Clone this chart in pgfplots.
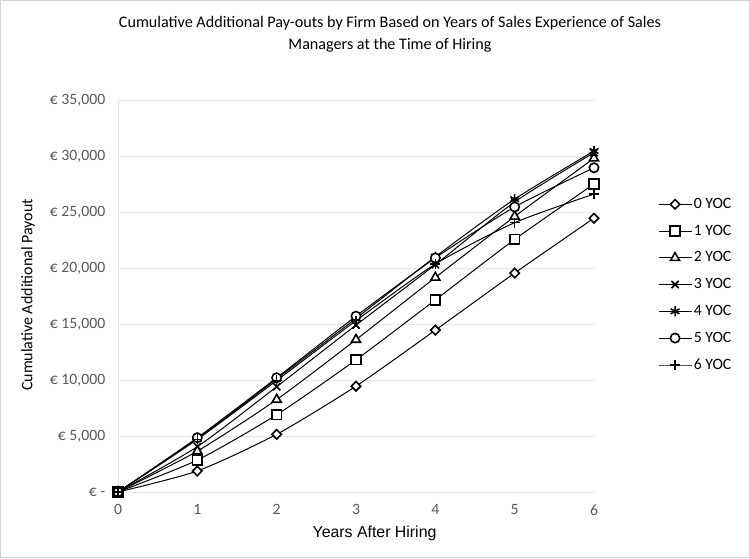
\documentclass[border=0pt]{standalone}
\usepackage{fontspec}
\setmainfont{Carlito}
\newfontfamily\arialfont{Liberation Sans}
\usepackage{pgfplots}
\pgfplotsset{compat=1.18}
\usetikzlibrary{plotmarks}
\definecolor{ticktext}{HTML}{595959}
\definecolor{gridc}{HTML}{E3E7EE}
\definecolor{framec}{HTML}{D0D0D0}
\begin{document}
\begin{tikzpicture}
\useasboundingbox (0,0) rectangle (562.5pt,418.5pt);
\draw[framec, line width=0.75pt] (0.4pt,0.4pt) rectangle (562.1pt,418.1pt);
\node[align=center, font=\fontsize{12.1}{16.5}\selectfont] at (292.5pt,393pt)
  {Cumulative Additional Pay-outs by Firm Based on Years of Sales Experience of Sales\\Managers at the Time of Hiring};
\begin{axis}[
  at={(88.5pt,49.5pt)}, anchor=south west,
  scale only axis, width=357pt, height=294pt,
  xmin=0, xmax=6, ymin=0, ymax=35000,
  enlargelimits=false, scaled ticks=false, clip=false,
  axis x line=bottom, axis y line=left,
  axis line style={-, draw=gridc, line width=0.75pt},
  xtick={0,1,2,3,4,5,6}, xticklabels={0,1,2,3,4,5,6},
  ytick={0,5000,10000,15000,20000,25000,30000,35000},
  yticklabels={{€ -}, {€ 5,000}, {€ 10,000}, {€ 15,000}, {€ 20,000}, {€ 25,000}, {€ 30,000}, {€ 35,000}},
  major tick length=0pt,
  ymajorgrids, grid style={gridc, line width=0.75pt},
  ticklabel style={font=\fontsize{11.8}{13}\selectfont, text=ticktext},
  yticklabel style={xshift=-6pt},
  xticklabel style={yshift=-6pt},
  xlabel={Years After Hiring},
  ylabel={Cumulative Additional Payout},
  every axis x label/.style={at={(axis description cs:0.539,-0.1046)}, anchor=center, font=\arialfont\fontsize{11.9}{13}\selectfont},
  every axis y label/.style={at={(axis description cs:-0.189,0.5026)}, rotate=90, anchor=center, font=\fontsize{12}{13}\selectfont},
  legend style={at={(axis description cs:1.126,0.762)}, anchor=north west, draw=none, fill=none,
    font=\fontsize{11.8}{13}\selectfont, row sep=7.9pt, nodes={inner sep=1.5pt}},
  legend cell align=left,
  legend image code/.code={\draw[mark repeat=2,mark phase=2] plot coordinates {(0cm,0cm) (0.43cm,0cm) (0.86cm,0cm)};},
  every axis plot/.append style={black, line width=0.75pt, smooth, tension=0.4,
    mark size=3.5pt, mark options={solid, fill=white, line width=1.2pt}},
]
\addplot[mark=square*, mark size=2.5pt, mark options={solid, fill=white, line width=1.2pt, rotate=45}] coordinates {(0,0) (1,1875) (2,5150) (3,9450) (4,14450) (5,19550) (6,24450)};
\addlegendentry{0 YOC}
\addplot[mark=square*, mark size=3.6pt] coordinates {(0,0) (1,2850) (2,6900) (3,11800) (4,17150) (5,22550) (6,27500)};
\addlegendentry{1 YOC}
\addplot[mark=triangle*, mark size=3.9pt] coordinates {(0,0) (1,3650) (2,8250) (3,13600) (4,19150) (5,24600) (6,29800)};
\addlegendentry{2 YOC}
\addplot[mark=x, mark size=3.8pt] coordinates {(0,0) (1,4050) (2,9400) (3,14900) (4,20300) (5,25900) (6,30300)};
\addlegendentry{3 YOC}
\addplot[mark=asterisk, mark size=3.8pt] coordinates {(0,0) (1,4750) (2,10100) (3,15500) (4,21000) (5,26150) (6,30450)};
\addlegendentry{4 YOC}
\addplot[mark=*] coordinates {(0,0) (1,4850) (2,10200) (3,15700) (4,20900) (5,25450) (6,28950)};
\addlegendentry{5 YOC}
\addplot[mark=+, mark size=3.8pt] coordinates {(0,0) (1,4700) (2,9950) (3,15300) (4,20350) (5,24050) (6,26600)};
\addlegendentry{6 YOC}
\end{axis}
\end{tikzpicture}
\end{document}
